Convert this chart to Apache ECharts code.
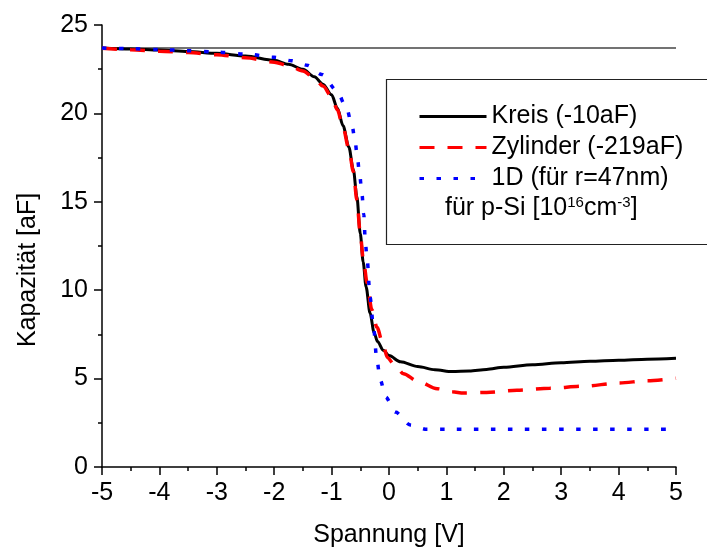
<!DOCTYPE html>
<html>
<head>
<meta charset="utf-8">
<script src="https://cdn.jsdelivr.net/npm/echarts@6/dist/echarts.min.js"></script>
<style>
  html, body { margin: 0; padding: 0; background: #fff; }
  #chart { width: 707px; height: 554px; }
</style>
</head>
<body>
<div id="chart"></div>
<script>
// Kreis (-10aF), black solid
var kreisU = [-5, -4.5, -4, -3.5, -3, -2.5, -2, -1.75, -1.5, -1.3, -1.15, -1.0, -0.9, -0.8, -0.7, -0.62, -0.56, -0.5, -0.45, -0.4, -0.33, -0.26, -0.2, -0.1, 0, 0.2, 0.5, 0.8, 1.1, 1.4, 1.7, 2.0, 2.5, 3.0, 3.5, 4.0, 4.5, 5.0];
var kreisC = [23.70, 23.64, 23.58, 23.50, 23.40, 23.24, 23.0, 22.78, 22.5, 22.07, 21.65, 21.05, 20.3, 19.3, 18.1, 16.8, 15.3, 13.2, 11.6, 10.2, 8.7, 7.6, 7.1, 6.6, 6.3, 5.95, 5.68, 5.5, 5.4, 5.43, 5.52, 5.64, 5.78, 5.9, 5.98, 6.04, 6.1, 6.15];

// Zylinder (-219aF), red dashed
var zylU = [-5, -4.5, -4, -3.5, -3, -2.5, -2, -1.75, -1.5, -1.3, -1.15, -1.0, -0.9, -0.8, -0.7, -0.62, -0.56, -0.5, -0.45, -0.38, -0.3, -0.21, -0.1, -0.03, 0.1, 0.25, 0.5, 0.84, 1.1, 1.3, 1.7, 2.23, 2.8, 3.39, 4.0, 4.5, 5.0];
var zylC = [23.68, 23.6, 23.52, 23.44, 23.32, 23.15, 22.9, 22.7, 22.4, 22.0, 21.55, 20.95, 20.2, 19.2, 18.0, 16.7, 15.1, 13.2, 11.8, 10.4, 8.9, 7.9, 6.9, 6.2, 5.75, 5.28, 4.85, 4.43, 4.25, 4.19, 4.22, 4.34, 4.45, 4.57, 4.75, 4.88, 5.02];

// 1D (für r=47nm), blue dotted
var eindU = [-5, -4.5, -4, -3.5, -3, -2.5, -2, -1.7, -1.43, -1.17, -0.91, -0.74, -0.64, -0.59, -0.55, -0.51, -0.47, -0.44, -0.41, -0.38, -0.33, -0.27, -0.21, -0.15, -0.06, 0.11, 0.37, 0.66, 1.0, 5.0];
var eindC = [23.70, 23.66, 23.61, 23.55, 23.47, 23.36, 23.17, 22.98, 22.73, 22.2, 21.3, 20.3, 19.24, 18.4, 17.45, 16.5, 15.4, 14.3, 12.6, 11.7, 9.6, 7.9, 6.0, 4.9, 3.96, 3.11, 2.38, 2.13, 2.13, 2.13];

// thin reference line at the top
var refU = [-5, 5];
var refC = [23.7, 23.7];

function pairs(xs, ys) {
    var out = [];
    for (var i = 0; i < xs.length; i++) out.push([xs[i], ys[i]]);
    return out;
}

var chart = echarts.init(document.getElementById('chart'));
var font = 'Liberation Sans, Arial, sans-serif';

var option = {
    backgroundColor: '#fff',
    animation: false,
    grid: { left: 102, right: 31, top: 25, bottom: 87 },
    xAxis: {
        type: 'value',
        min: -5, max: 5, interval: 1,
        name: 'Spannung [V]',
        nameLocation: 'middle',
        nameGap: 56,
        nameTextStyle: { fontFamily: font, fontSize: 25, color: '#000' },
        axisLine: { onZero: false, lineStyle: { color: '#000', width: 1.5 } },
        axisTick: { length: 8, lineStyle: { color: '#000', width: 1.5 } },
        minorTick: { show: true, splitNumber: 2, length: 4, lineStyle: { color: '#000', width: 1.5 } },
        axisLabel: { fontFamily: font, fontSize: 25, color: '#000', margin: 14 },
        splitLine: { show: false }
    },
    yAxis: {
        type: 'value',
        min: 0, max: 25, interval: 5,
        name: 'Kapazität [aF]',
        nameLocation: 'middle',
        nameGap: 61,
        // push the title a bit down, as in the original
        nameTextStyle: { fontFamily: font, fontSize: 25, color: '#000', padding: [0, 48, 0, 0] },
        axisLine: { show: true, onZero: false, lineStyle: { color: '#000', width: 1.5 } },
        axisTick: { show: true, length: 8, lineStyle: { color: '#000', width: 1.5 } },
        minorTick: { show: true, splitNumber: 2, length: 4, lineStyle: { color: '#000', width: 1.5 } },
        axisLabel: { fontFamily: font, fontSize: 25, color: '#000', margin: 14 },
        splitLine: { show: false }
    },
    legend: {
        orient: 'vertical',
        left: 418, top: 104,
        itemWidth: 67, itemHeight: 14, itemGap: 6,
        padding: 0,
        itemStyle: { opacity: 0 },
        lineStyle: { width: 3 },
        data: ['Kreis (-10aF)', 'Zylinder (-219aF)', '1D (für r=47nm)'],
        textStyle: { fontFamily: font, fontSize: 25, color: '#000', lineHeight: 25 }
    },
    graphic: [
        {
            type: 'rect',
            shape: { x: 386.5, y: 79.5, width: 340, height: 165 },
            style: { fill: 'none', stroke: '#222', lineWidth: 1.2 },
            z: 1
        },
        {
            type: 'text',
            left: 445, top: 195,
            style: {
                text: 'für p-Si [10{sup|16}cm{sup|-3}]',
                fontFamily: font, fontSize: 25, fill: '#000',
                rich: {
                    sup: { fontFamily: font, fontSize: 15, fill: '#000', verticalAlign: 'top', padding: [0, 0, 12, 0] }
                }
            },
            z: 10
        }
    ],
    series: [
        {
            name: 'ref',
            type: 'line',
            data: pairs(refU, refC),
            symbol: 'none',
            lineStyle: { color: '#444', width: 1.3 },
            z: 1,
            silent: true
        },
        {
            name: 'Kreis (-10aF)',
            type: 'line',
            data: pairs(kreisU, kreisC),
            symbol: 'none',
            smooth: 0.3, smoothMonotone: 'x',
            itemStyle: { color: '#000' },
            lineStyle: { color: '#000', width: 3 },
            z: 3
        },
        {
            name: 'Zylinder (-219aF)',
            type: 'line',
            data: pairs(zylU, zylC),
            symbol: 'none',
            smooth: 0.3, smoothMonotone: 'x',
            itemStyle: { color: '#ff0000' },
            lineStyle: { color: '#ff0000', width: 3.5, type: [15, 13] },
            z: 4
        },
        {
            name: '1D (für r=47nm)',
            type: 'line',
            data: pairs(eindU, eindC),
            symbol: 'none',
            smooth: 0.3, smoothMonotone: 'x',
            itemStyle: { color: '#0000ff' },
            lineStyle: { color: '#0000ff', width: 3.5, type: [4.5, 12.5] },
            z: 5
        }
    ]
};

chart.setOption(option);
</script>
</body>
</html>
